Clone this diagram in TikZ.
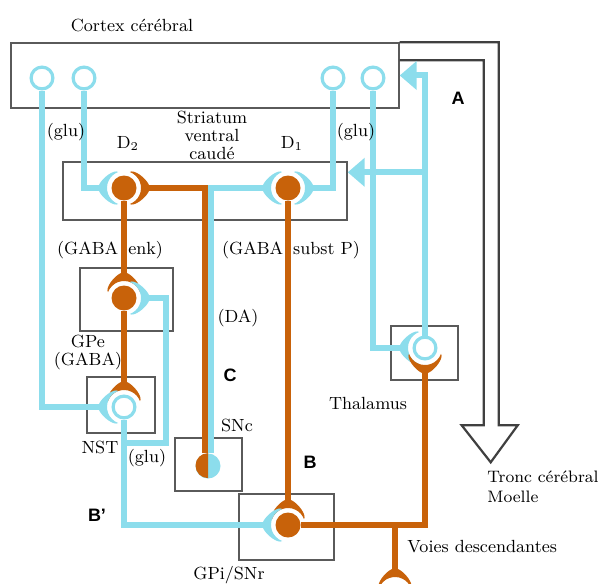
\documentclass[tikz,border=0pt]{standalone}
\usepackage{fontspec}
\newfontfamily\lettrefont{Liberation Sans}
\usetikzlibrary{arrows.meta}
\definecolor{glublue}{RGB}{140,221,236}
\definecolor{gabaorange}{RGB}{200,98,10}
\definecolor{boxgray}{RGB}{90,90,90}
\tikzset{%
  region/.style   = {rectangle, draw=boxgray, line width=0.7pt, inner sep=0pt},%
  glucell/.style  = {circle, draw=glublue, fill=white, line width=1.6pt,%
                     inner sep=0pt, minimum size=10.9pt},%
  gabacell/.style = {circle, fill=gabaorange, inner sep=0pt, minimum size=12.5pt},%
  dacell/.style   = {circle, fill=glublue, inner sep=0pt, minimum size=12.5pt},%
  gluaxon/.style  = {draw=glublue, line width=3pt},%
  gabaaxon/.style = {draw=gabaorange, line width=3pt},%
  proj/.style     = {gluaxon, -{Triangle[length=8.5pt,width=14pt]}},%
  lbl/.style      = {font=\fontsize{8.8}{9}\selectfont, inner sep=0pt},%
  pathlbl/.style  = {font=\lettrefont\bfseries\fontsize{9}{9}\selectfont, inner sep=0pt},%
  pics/synapse/.style = {code={%
    \fill[#1] (-70:17) arc[start angle=-70, end angle=70, radius=17]
      .. controls (10,19) and (22,10) .. (25,3) -- (25,-3)
      .. controls (22,-10) and (10,-19) .. (-70:17) -- cycle;
    \coordinate (-back) at (24.5,0);
  }}%
}
\begin{document}
\begin{tikzpicture}[x=0.5pt, y=0.5pt]
  \useasboundingbox (0,0) rectangle (598,-583);
  % -------------- REGIONS --------------------------------------
  \node[region, minimum width=194pt, minimum height=32.5pt] (ctx) at (205,-75.5) {};
  \node[region, minimum width=142pt, minimum height=29pt] (str) at (205,-191) {};
  \node[region, minimum width=46.5pt, minimum height=31.5pt] (gpebox) at (126.5,-299.5) {};
  \node[region, minimum width=34pt, minimum height=28pt] (nstbox) at (121,-405) {};
  \node[region, minimum width=33.5pt, minimum height=26.5pt] (sncbox) at (208.5,-464.5) {};
  \node[region, minimum width=47.5pt, minimum height=33pt] (gpibox) at (286.5,-527) {};
  \node[region, minimum width=33.5pt, minimum height=27pt] (thalbox) at (424.5,-353) {};
  % -------------- OUTPUT TO BRAINSTEM ---------------------------
  \draw[black!75, line width=1.1pt]
  (ctx.north east) -| ++(99,-383) -- ++(19,0) -- ++(-27,-37) -- ++(-29,37)
  -- ++(22,0) |- ([yshift=-9pt]ctx.north east);
  % -------------- CELLS -----------------------------------------
  \node[glucell] (cx1) at (42,-78) {};
  \node[glucell] (cx2) at (84,-78) {};
  \node[glucell] (cx3) at (333,-78) {};
  \node[glucell] (cx4) at (373,-78) {};
  \node[gabacell] (d2) at (124,-188) {};
  \node[gabacell] (d1) at (288,-188) {};
  \node[gabacell] (gpe) at (124,-298) {};
  \node[glucell] (nst) at (124,-407) {};
  \node[gabacell] (gpi) at (288,-525) {};
  \node[glucell] (thal) at (425,-348) {};
  \node[dacell] (snc) at (208,-466) {};
  \fill[gabaorange] (snc.north) arc[start angle=90, end angle=270, radius=12.5] -- cycle;
  \coordinate (desc) at (395,-594);
  % -------------- SYNAPSES --------------------------------------
  \pic[rotate=180] (d2L) at (d2) {synapse=glublue};
  \pic (d2R) at (d2) {synapse=gabaorange};
  \pic[rotate=180] (d1L) at (d1) {synapse=glublue};
  \pic (d1R) at (d1) {synapse=glublue};
  \pic[rotate=90] (gpeT) at (gpe) {synapse=gabaorange};
  \pic (gpeR) at (gpe) {synapse=glublue};
  \pic[rotate=90] (nstT) at (nst) {synapse=gabaorange};
  \pic[rotate=180] (nstL) at (nst) {synapse=glublue};
  \pic[rotate=90] (gpiT) at (gpi) {synapse=gabaorange};
  \pic[rotate=180] (gpiL) at (gpi) {synapse=glublue};
  \pic[rotate=180] (thalL) at (thal) {synapse=glublue};
  \pic[rotate=270] (thalB) at (thal) {synapse=gabaorange};
  \pic[rotate=90] (descT) at (desc) {synapse=gabaorange};
  % -------------- PATHWAYS --------------------------------------
  \draw[gluaxon] (cx1.south) |- (nstL-back);
  \draw[gluaxon] (cx2.south) |- (d2L-back);
  \draw[gluaxon] (cx3.south) |- (d1R-back);
  \draw[gluaxon] (cx4.south) |- (thalL-back);
  \draw[gabaaxon] ([xshift=-1.5pt]snc.north) |- (d2R-back);
  \draw[gluaxon] ([xshift=1.5pt]snc.north) |- (d1L-back);
  \draw[gabaaxon] (d2.south) -- (gpeT-back);
  \draw[gabaaxon] (gpe.south) -- (nstT-back);
  \draw[gluaxon] (nst.south) |- (gpiL-back);
  \draw[gluaxon] (nst.south) ++(0,-23.5) -- ++(42,0) |- (gpeR-back);
  \draw[gabaaxon] (d1.south) -- (gpiT-back);
  \draw[gabaaxon] (gpi.east) -| (thalB-back);
  \draw[gabaaxon] (gpi.east -| desc) -- (descT-back);
  \draw[proj] (thal.north) |- (ctx.east);
  \coordinate (strin) at ([yshift=-5.5pt]str.north east);
  \draw[proj] (thal.north |- strin) -- (strin);
  % -------------- LABELS ----------------------------------------
  \node[lbl] (ctxlbl) at (132,-25) {Cortex cérébral};
  \node[lbl, align=center] (strlbl) at (212,-135) {Striatum\\ventral\\caudé};
  \node[lbl] (d2lbl) at (128,-143) {D$_2$};
  \node[lbl] (d1lbl) at (292,-143) {D$_1$};
  \node[lbl] (glu1) at (66,-132) {(glu)};
  \node[lbl] (glu2) at (356,-132) {(glu)};
  \node[lbl] (enklbl) at (110,-250) {(GABA\hspace{5pt}enk)};
  \node[lbl] (substlbl) at (291,-250) {(GABA\hspace{5pt}subst P)};
  \node[lbl] (dalbl) at (238,-318) {(DA)};
  \node[lbl, align=center] (gpelbl) at (88,-352) {GPe\\(GABA)};
  \node[lbl] (nstlbl) at (100,-447) {NST};
  \node[lbl] (glu3) at (147,-458) {(glu)};
  \node[lbl] (snclbl) at (237,-425) {SNc};
  \node[lbl] (thallbl) at (368,-403) {Thalamus};
  \node[lbl] (gpilbl) at (229,-575) {GPi/SNr};
  \node[lbl, anchor=west] (voieslbl) at (407,-547) {Voies descendantes};
  \node[lbl, anchor=west, align=left, font=\fontsize{8.3}{10}\selectfont] (troncl) at (487,-487) {Tronc cérébral\\Moelle};
  \node[pathlbl] (pathA) at (458,-98) {A};
  \node[pathlbl] (pathB) at (310,-462) {B};
  \node[pathlbl] (pathBp) at (97,-515) {B’};
  \node[pathlbl] (pathC) at (230,-375) {C};
\end{tikzpicture}
\end{document}
